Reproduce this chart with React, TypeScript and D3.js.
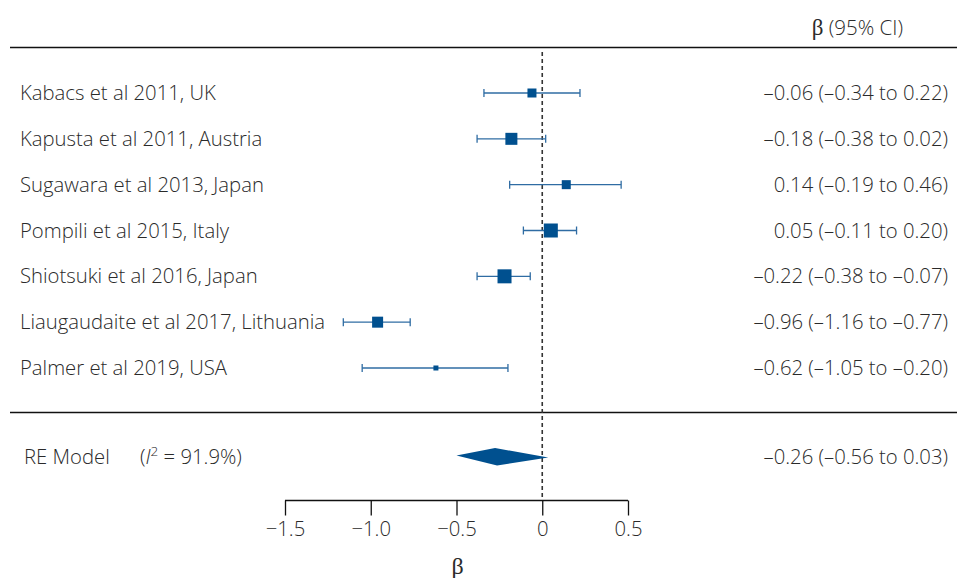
import * as d3 from "d3";
import { useEffect, useRef } from "react";

const studies = [
  "Kabacs et al 2011, UK",
  "Kapusta et al 2011, Austria",
  "Sugawara et al 2013, Japan",
  "Pompili et al 2015, Italy",
  "Shiotsuki et al 2016, Japan",
  "Liaugaudaite et al 2017, Lithuania",
  "Palmer et al 2019, USA",
];
const estimates = [-0.06, -0.18, 0.14, 0.05, -0.22, -0.96, -0.62];
const lower = [-0.34, -0.38, -0.19, -0.11, -0.38, -1.16, -1.05];
const upper = [0.22, 0.02, 0.46, 0.2, -0.07, -0.77, -0.2];
const weights = [9, 12, 9, 14, 14, 11, 5];
// pooled estimate as printed, and the diamond as drawn in the picture
const pooledText = [-0.26, -0.56, 0.03];
const pooledDiamond = [-0.24, -0.5, 0.035];
const ticks = [-1.5, -1.0, -0.5, 0, 0.5];

const fmt = (v: number) => (v < 0 ? "\u2013" : "") + Math.abs(v).toFixed(2);
const tickFmt = (v: number) => (v === 0 ? "0" : (v < 0 ? "\u2212" : "") + Math.abs(v).toFixed(1));

const App = () => {
  const ref = useRef(null);

  useEffect(() => {
    const width = 957;
    const height = 578;
    const font = "'Open Sans', sans-serif";
    const serif = "'Liberation Serif', 'DejaVu Serif', serif";
    const fs = 20.3;
    const txt = "#2a2a2a";
    const dark = "#00508f";
    const lineCol = "#2f6ca3";

    d3.select(ref.current).select("svg").remove();
    const svg = d3
      .select(ref.current)
      .append("svg")
      .attr("width", width)
      .attr("height", height)
      .style("position", "absolute")
      .style("left", 0)
      .style("top", 0)
      .style("background", "white");

    const x = d3.scaleLinear().domain([-1.5, 0.5]).range([285, 628]);
    const y = d3.scaleLinear().domain([0, 6]).range([93, 368]);
    const yPooled = 457;

    // header
    const head = svg.append("text")
      .attr("x", 903)
      .attr("y", 35)
      .attr("text-anchor", "end")
      .attr("font-family", font)
      .attr("font-size", 20.5)
      .attr("font-weight", 300)
      .attr("fill", txt);
    head.append("tspan").attr("font-family", serif).attr("font-size", 23).text("\u03b2");
    head.append("tspan").text(" (95% CI)");

    svg.append("line").attr("x1", 10).attr("x2", 957).attr("y1", 47.5).attr("y2", 47.5)
      .attr("stroke", "#111").attr("stroke-width", 1.5);
    svg.append("line").attr("x1", 10).attr("x2", 957).attr("y1", 412.5).attr("y2", 412.5)
      .attr("stroke", "#111").attr("stroke-width", 1.5);

    // reference line at zero
    svg.append("line").attr("x1", x(0)).attr("x2", x(0)).attr("y1", 52).attr("y2", 500)
      .attr("stroke", "#333").attr("stroke-width", 1.6).attr("stroke-dasharray", "4,3");

    const rows = svg.selectAll("g.row").data(studies).enter().append("g").attr("class", "row");

    rows.append("text")
      .attr("x", 20)
      .attr("y", (_, i) => y(i) + 7)
      .attr("font-family", font)
      .attr("font-size", fs)
      .attr("font-weight", 300)
      .attr("fill", txt)
      .text((d) => d);

    rows.append("text")
      .attr("x", 948)
      .attr("y", (_, i) => y(i) + 7)
      .attr("text-anchor", "end")
      .attr("font-family", font)
      .attr("font-size", fs)
      .attr("font-weight", 300)
      .attr("fill", txt)
      .text((_, i) => `${fmt(estimates[i])} (${fmt(lower[i])} to ${fmt(upper[i])})`);

    rows.append("line")
      .attr("x1", (_, i) => x(lower[i]))
      .attr("x2", (_, i) => x(upper[i]))
      .attr("y1", (_, i) => y(i))
      .attr("y2", (_, i) => y(i))
      .attr("stroke", lineCol)
      .attr("stroke-width", 1.3);

    [lower, upper].forEach((arr) => {
      rows.append("line")
        .attr("x1", (_, i) => x(arr[i]))
        .attr("x2", (_, i) => x(arr[i]))
        .attr("y1", (_, i) => y(i) - 4)
        .attr("y2", (_, i) => y(i) + 4)
        .attr("stroke", lineCol)
        .attr("stroke-width", 1.3);
    });

    rows.append("rect")
      .attr("x", (_, i) => x(estimates[i]) - weights[i] / 2)
      .attr("y", (_, i) => y(i) - weights[i] / 2)
      .attr("width", (_, i) => weights[i])
      .attr("height", (_, i) => weights[i])
      .attr("fill", dark);

    // pooled estimate
    svg.append("text")
      .attr("x", 24)
      .attr("y", yPooled + 7)
      .attr("font-family", font)
      .attr("font-size", fs)
      .attr("font-weight", 300)
      .attr("fill", txt)
      .text("RE Model");
    const i2 = svg.append("text")
      .attr("x", 140)
      .attr("y", yPooled + 7)
      .attr("font-family", font)
      .attr("font-size", fs)
      .attr("font-weight", 300)
      .attr("fill", txt);
    i2.append("tspan").text("(");
    i2.append("tspan").attr("font-style", "italic").text("I");
    i2.append("tspan").attr("font-size", 13.5).attr("dy", -8).text("2");
    i2.append("tspan").attr("dy", 8).text(" = 91.9%)");

    const [dEst, dLo, dHi] = pooledDiamond;
    svg.append("path")
      .attr("d", d3.line()([
        [x(dLo), yPooled - 1.5],
        [x(dEst) - 6, yPooled - 9],
        [x(dHi), yPooled + 0.5],
        [x(dEst) - 4, yPooled + 8.5],
      ]) + "Z")
      .attr("fill", dark);

    svg.append("text")
      .attr("x", 948)
      .attr("y", yPooled + 7)
      .attr("text-anchor", "end")
      .attr("font-family", font)
      .attr("font-size", fs)
      .attr("font-weight", 300)
      .attr("fill", txt)
      .text(`${fmt(pooledText[0])} (${fmt(pooledText[1])} to ${fmt(pooledText[2])})`);

    // axis
    const axis = svg.append("g")
      .attr("transform", "translate(0,500.5)")
      .call(d3.axisBottom(x).tickValues(ticks).tickFormat((d) => tickFmt(+d)).tickSize(15).tickPadding(6));
    axis.select(".domain").attr("stroke", "#111").attr("stroke-width", 1.3)
      .attr("d", `M${x(-1.5)},0H${x(0.5)}`);
    axis.selectAll(".tick line").attr("stroke", "#111").attr("stroke-width", 1.3);
    axis.selectAll(".tick text")
      .attr("font-family", font)
      .attr("font-size", fs)
      .attr("font-weight", 300)
      .attr("fill", txt);

    svg.append("text")
      .attr("x", x(-0.5) + 1)
      .attr("y", 574)
      .attr("text-anchor", "middle")
      .attr("font-family", serif)
      .attr("font-size", 24)
      .attr("fill", txt)
      .text("\u03b2");
  }, [ref]);

  return <div className="chart" ref={ref}></div>;
};

export default App;
